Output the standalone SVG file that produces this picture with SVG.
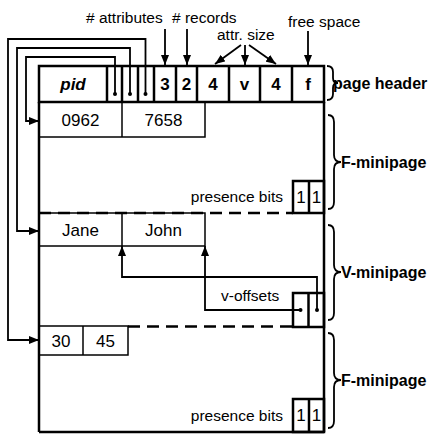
<svg xmlns="http://www.w3.org/2000/svg" width="428" height="438" viewBox="0 0 428 438">
<style>
text{font-family:"Liberation Sans",Arial,sans-serif;font-size:15.5px;fill:#000}
.b{font-weight:bold}
.c{text-anchor:middle}
.cell{font-size:17px}
.hd{font-size:17px;font-weight:bold;text-anchor:middle}
.side{font-size:16px;font-weight:bold}
.thick{fill:none;stroke:#000;stroke-width:2.5}
.thin{fill:none;stroke:#000;stroke-width:1.5}
.ln{fill:none;stroke:#000;stroke-width:1.8}
.dash{fill:none;stroke:#000;stroke-width:2.5;stroke-dasharray:12 7}
.brace{fill:none;stroke:#000;stroke-width:1.8}
</style>
<defs>
<marker id="ah" viewBox="0 0 10 8" refX="10" refY="4" markerWidth="10" markerHeight="8" markerUnits="userSpaceOnUse" orient="auto">
<path d="M0,0 L10,4 L0,8 z" fill="#000"/>
</marker>
</defs>
<g id="page">
<line class="thick" x1="39" y1="102" x2="39" y2="432"/>
<line class="thick" x1="324" y1="102" x2="324" y2="432"/>
<line class="thick" x1="39" y1="432" x2="324" y2="432"/>
</g>
<g id="header">
<rect class="thick" x="39" y="66" width="285" height="36"/>
<line class="thick" x1="107" y1="66" x2="107" y2="102"/>
<line class="thick" x1="122" y1="66" x2="122" y2="102"/>
<line class="thick" x1="138" y1="66" x2="138" y2="102"/>
<line class="thick" x1="154" y1="66" x2="154" y2="102"/>
<line class="thick" x1="176" y1="66" x2="176" y2="102"/>
<line class="thick" x1="197" y1="66" x2="197" y2="102"/>
<line class="thick" x1="229" y1="66" x2="229" y2="102"/>
<line class="thick" x1="260" y1="66" x2="260" y2="102"/>
<line class="thick" x1="292" y1="66" x2="292" y2="102"/>
<text class="hd" x="73" y="90" style="font-style:italic">pid</text>
<text class="hd" x="165" y="90">3</text>
<text class="hd" x="186.5" y="90">2</text>
<text class="hd" x="213" y="90">4</text>
<text class="hd" x="244.5" y="90">v</text>
<text class="hd" x="276" y="90">4</text>
<text class="hd" x="308" y="90">f</text>
<circle cx="115" cy="94" r="2"/>
<circle cx="130" cy="94" r="2"/>
<circle cx="145.5" cy="94" r="2"/>
</g>
<g id="labels">
<text x="86" y="23"># attributes</text>
<text x="172" y="23"># records</text>
<text x="217" y="40">attr. size</text>
<text x="288" y="27">free space</text>
</g>
<g id="f-minipage-1">
<rect class="thin" x="39" y="102" width="166" height="35"/>
<line class="thin" x1="122" y1="102" x2="122" y2="137"/>
<text class="c cell" x="80.5" y="126">0962</text>
<text class="c cell" x="163.5" y="126">7658</text>
<text x="283" y="202" style="text-anchor:end">presence bits</text>
<rect class="thick" x="293" y="181" width="31" height="32"/>
<line class="thick" x1="309" y1="181" x2="309" y2="213"/>
<text class="c cell" x="301" y="203">1</text>
<text class="c cell" x="316.5" y="203">1</text>
</g>
<g id="v-minipage">
<line class="dash" x1="39" y1="213" x2="293" y2="213"/>
<rect class="thin" x="39" y="213" width="166" height="33"/>
<line class="thin" x1="122" y1="213" x2="122" y2="246"/>
<text class="c cell" x="80.5" y="236">Jane</text>
<text class="c cell" x="163.5" y="236">John</text>
<text x="221" y="301">v-offsets</text>
<rect class="thick" x="293" y="293" width="31" height="34"/>
<line class="thick" x1="308.5" y1="293" x2="308.5" y2="327"/>
<circle cx="300.5" cy="310" r="2"/>
<circle cx="317" cy="310" r="2"/>
</g>
<g id="f-minipage-2">
<line class="dash" x1="128" y1="326.5" x2="293" y2="326.5"/>
<rect class="thin" x="39" y="326" width="89" height="29"/>
<line class="thin" x1="83" y1="326" x2="83" y2="355"/>
<text class="c cell" x="61" y="347">30</text>
<text class="c cell" x="105.5" y="347">45</text>
<text x="283" y="421" style="text-anchor:end">presence bits</text>
<rect class="thick" x="293" y="399" width="31" height="33"/>
<line class="thick" x1="309" y1="399" x2="309" y2="432"/>
<text class="c cell" x="301" y="421">1</text>
<text class="c cell" x="316.5" y="421">1</text>
</g>
<g id="braces">
<path class="brace" d="M327,66 Q333,66 333,72 L333,78 Q333,83 338,83 Q333,83 333,88 L333,94 Q333,100 327,100"/>
<text class="side" x="333" y="89">page header</text>
<path class="brace" d="M328,115 Q334,115 334,122 L334,155 Q334,162 341,162 Q334,162 334,169 L334,202 Q334,209 328,209"/>
<text class="side" x="341" y="168">F-minipage</text>
<path class="brace" d="M328,225 Q334,225 334,232 L334,265 Q334,272 341,272 Q334,272 334,279 L334,313 Q334,320 328,320"/>
<text class="side" x="341" y="278">V-minipage</text>
<path class="brace" d="M328,333 Q334,333 334,340 L334,373 Q334,380 341,380 Q334,380 334,387 L334,421 Q334,428 328,428"/>
<text class="side" x="341" y="386">F-minipage</text>
</g>
<g id="connectors">
<path class="ln" d="M115,94 L115,57 L26,57 L26,121 L39,121" marker-end="url(#ah)"/>
<path class="ln" d="M130,94 L130,48 L17,48 L17,231 L39,231" marker-end="url(#ah)"/>
<path class="ln" d="M145.5,94 L145.5,39 L8,39 L8,340 L39,340" marker-end="url(#ah)"/>
<path class="ln" d="M165,29 L165,65" marker-end="url(#ah)"/>
<path class="ln" d="M187,29 L187,65" marker-end="url(#ah)"/>
<path class="ln" d="M241,45 L215,64" marker-end="url(#ah)"/>
<path class="ln" d="M245,45 L245,65" marker-end="url(#ah)"/>
<path class="ln" d="M249,45 L276,64" marker-end="url(#ah)"/>
<path class="ln" d="M308,31 L308,65" marker-end="url(#ah)"/>
<path class="ln" d="M317,310 L317,277 L122,277 L122,246" marker-end="url(#ah)"/>
<path class="ln" d="M300.5,310 L205,310 L205,246" marker-end="url(#ah)"/>
</g>
</svg>
